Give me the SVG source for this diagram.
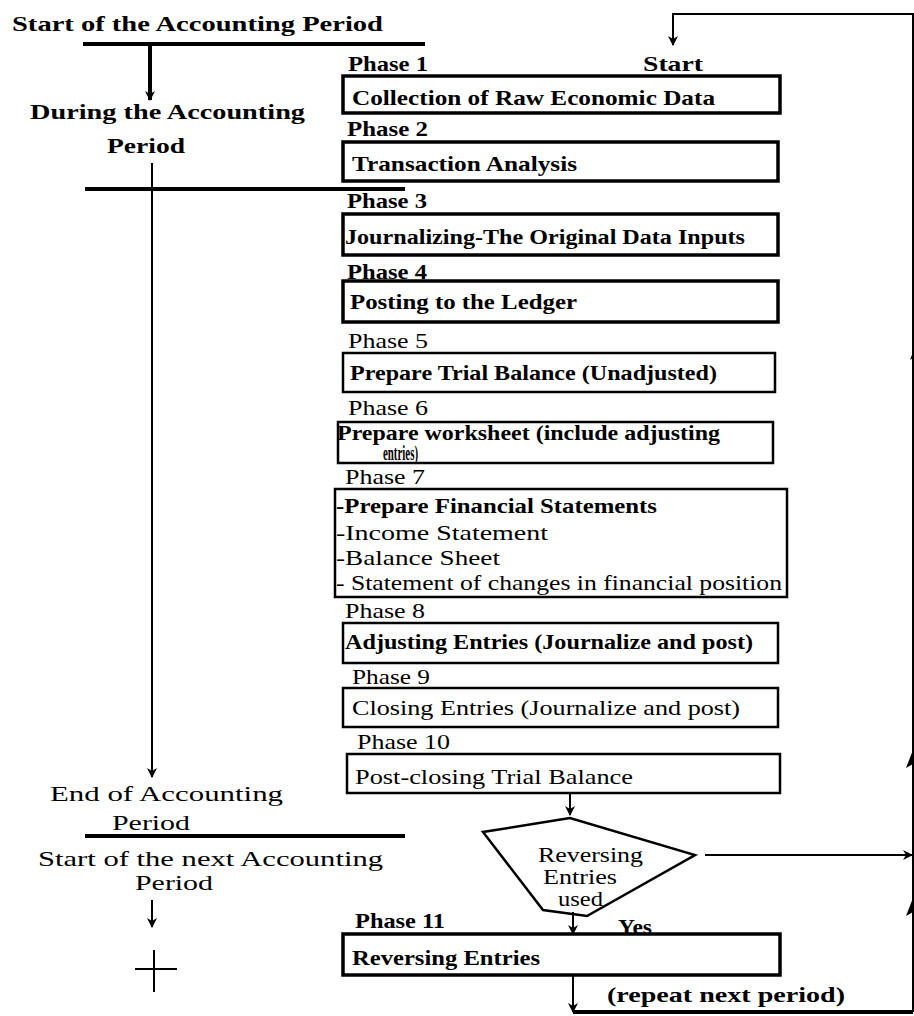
<svg xmlns="http://www.w3.org/2000/svg" width="914" height="1016" viewBox="0 0 914 1016">
<style>
text{font-family:"Liberation Serif","Times New Roman",serif;fill:#000;font-size:21px}
.b{font-weight:bold}
.box{fill:none;stroke:#000;stroke-width:2.5}
.bx{fill:none;stroke:#000;stroke-width:3.5}
.ln{fill:none;stroke:#000;stroke-width:2}
.th{fill:none;stroke:#000;stroke-width:4}
</style>
<defs>
<marker id="ah" markerWidth="10" markerHeight="10" refX="9" refY="5" orient="auto" markerUnits="userSpaceOnUse"><path d="M0,0 L10,5 L0,10 L3,5 Z" fill="#000"/></marker>
</defs>
<rect width="914" height="1016" fill="#fff"/>
<g id="left-labels">
<text class="b" x="12" y="31" font-size="23" textLength="371" lengthAdjust="spacingAndGlyphs">Start of the Accounting Period</text>
<text class="b" x="30" y="119" font-size="22" textLength="275" lengthAdjust="spacingAndGlyphs">During the Accounting</text>
<text class="b" x="107" y="153" font-size="22" textLength="78" lengthAdjust="spacingAndGlyphs">Period</text>
<text x="50" y="801" font-size="22" textLength="233" lengthAdjust="spacingAndGlyphs">End of Accounting</text>
<text x="112" y="830" font-size="22" textLength="78" lengthAdjust="spacingAndGlyphs">Period</text>
<text x="38" y="866" font-size="21" textLength="345" lengthAdjust="spacingAndGlyphs">Start of the next Accounting</text>
<text x="135" y="890" font-size="19" textLength="78" lengthAdjust="spacingAndGlyphs">Period</text>
</g>
<g id="phase1"><text class="b" x="348" y="71" textLength="80" lengthAdjust="spacingAndGlyphs">Phase 1</text>
<rect class="bx" x="343" y="76" width="437" height="37"/>
<text class="b" x="352" y="105" textLength="363" lengthAdjust="spacingAndGlyphs">Collection of Raw Economic Data</text></g>
<g id="start"><text class="b" x="643" y="71" textLength="60" lengthAdjust="spacingAndGlyphs">Start</text></g>
<g id="phase2"><text class="b" x="347" y="136" textLength="81" lengthAdjust="spacingAndGlyphs">Phase 2</text>
<rect class="bx" x="343" y="142" width="435" height="39"/>
<text class="b" x="352" y="171" textLength="225" lengthAdjust="spacingAndGlyphs">Transaction Analysis</text></g>
<g id="phase3"><text class="b" x="347" y="208" textLength="80" lengthAdjust="spacingAndGlyphs">Phase 3</text>
<rect class="bx" x="343" y="214" width="435" height="41"/>
<text class="b" x="345" y="244" textLength="400" lengthAdjust="spacingAndGlyphs">Journalizing-The Original Data Inputs</text></g>
<g id="phase4"><text class="b" x="347" y="279" textLength="80" lengthAdjust="spacingAndGlyphs">Phase 4</text>
<rect class="bx" x="343" y="281" width="435" height="41"/>
<text class="b" x="350" y="309" textLength="227" lengthAdjust="spacingAndGlyphs">Posting to the Ledger</text></g>
<g id="phase5"><text x="348" y="348" textLength="80" lengthAdjust="spacingAndGlyphs">Phase 5</text>
<rect class="box" x="343" y="353" width="432" height="39"/>
<text class="b" x="350" y="380" textLength="367" lengthAdjust="spacingAndGlyphs">Prepare Trial Balance (Unadjusted)</text></g>
<g id="phase6"><text x="348" y="415" textLength="80" lengthAdjust="spacingAndGlyphs">Phase 6</text>
<rect class="box" x="338" y="422" width="435" height="41"/>
<text class="b" x="337" y="440" font-size="18" textLength="383" lengthAdjust="spacingAndGlyphs">Prepare worksheet (include adjusting</text>
<text class="b" x="383" y="460" font-size="12" textLength="35" lengthAdjust="spacingAndGlyphs">entries)</text></g>
<g id="phase7"><text x="345" y="484" textLength="80" lengthAdjust="spacingAndGlyphs">Phase 7</text>
<rect class="box" x="335" y="489" width="452" height="108"/>
<text class="b" x="336" y="513" textLength="321" lengthAdjust="spacingAndGlyphs">-Prepare Financial Statements</text>
<text x="336" y="540" textLength="212" lengthAdjust="spacingAndGlyphs">-Income Statement</text>
<text x="336" y="565" textLength="164" lengthAdjust="spacingAndGlyphs">-Balance Sheet</text>
<text x="336" y="590" textLength="446" lengthAdjust="spacingAndGlyphs">- Statement of changes in financial position</text></g>
<g id="phase8"><text x="345" y="618" textLength="80" lengthAdjust="spacingAndGlyphs">Phase 8</text>
<rect class="box" x="343" y="623" width="435" height="40"/>
<text class="b" x="345" y="649" textLength="408" lengthAdjust="spacingAndGlyphs">Adjusting Entries (Journalize and post)</text></g>
<g id="phase9"><text x="352" y="684" textLength="78" lengthAdjust="spacingAndGlyphs">Phase 9</text>
<rect class="box" x="343" y="688" width="435" height="39"/>
<text x="352" y="715" textLength="388" lengthAdjust="spacingAndGlyphs">Closing Entries (Journalize and post)</text></g>
<g id="phase10"><text x="357" y="749" textLength="93" lengthAdjust="spacingAndGlyphs">Phase 10</text>
<rect class="box" x="347" y="754" width="433" height="39"/>
<text x="355" y="784" textLength="278" lengthAdjust="spacingAndGlyphs">Post-closing Trial Balance</text></g>
<g id="decision"><path class="box" d="M570,818 L483,832 L543,910 L587,916 L695,855 Z"/>
<text x="538" y="862" font-size="16" textLength="105" lengthAdjust="spacingAndGlyphs">Reversing</text>
<text x="543" y="884" font-size="16" textLength="74" lengthAdjust="spacingAndGlyphs">Entries</text>
<text x="558" y="906" font-size="16" textLength="45" lengthAdjust="spacingAndGlyphs">used</text>
<text class="b" x="618" y="934" font-size="18" textLength="34" lengthAdjust="spacingAndGlyphs">Yes</text></g>
<g id="phase11"><text class="b" x="355" y="928" textLength="90" lengthAdjust="spacingAndGlyphs">Phase 11</text>
<rect class="bx" x="343" y="934" width="437" height="41"/>
<text class="b" x="352" y="965" textLength="188" lengthAdjust="spacingAndGlyphs">Reversing Entries</text>
<text class="b" x="607" y="1002" textLength="238" lengthAdjust="spacingAndGlyphs">(repeat next period)</text></g>
<g id="connectors">
<line class="th" x1="83" y1="44" x2="425" y2="44"/>
<line class="th" x1="150" y1="44" x2="150" y2="100" marker-end="url(#ah)"/>
<line class="th" x1="85" y1="189" x2="405" y2="189"/>
<line class="ln" x1="152" y1="163" x2="152" y2="777" marker-end="url(#ah)"/>
<line class="th" x1="85" y1="836" x2="405" y2="836"/>
<line class="ln" x1="152" y1="900" x2="152" y2="927" marker-end="url(#ah)"/>
<line class="ln" x1="135" y1="969" x2="177" y2="969"/>
<line class="ln" x1="154" y1="950" x2="154" y2="992"/>
<path class="ln" d="M913,1012 L913,14 L673,14 L673,45" marker-end="url(#ah)"/>
<line class="ln" x1="570" y1="793" x2="570" y2="815" marker-end="url(#ah)"/>
<line class="ln" x1="705" y1="855" x2="912" y2="855" marker-end="url(#ah)"/>
<line class="ln" x1="573" y1="912" x2="573" y2="934" marker-end="url(#ah)"/>
<line class="ln" x1="573" y1="975" x2="573" y2="1012" marker-end="url(#ah)"/>
<line class="th" x1="573" y1="1012" x2="913" y2="1012"/>
<path d="M913,750 L906,768 L913,764 Z" fill="#000"/>
<path d="M913,898 L906,916 L913,912 Z" fill="#000"/>
<path d="M913,352 L910,360 L913,358 Z" fill="#000"/>
</g>
</svg>
